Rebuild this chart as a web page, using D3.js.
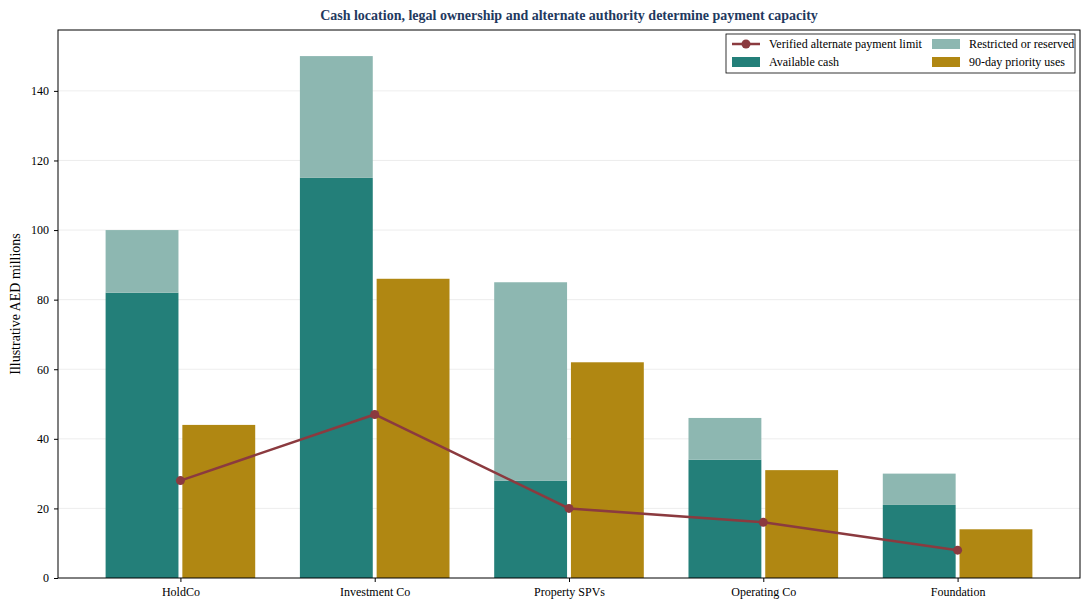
<!DOCTYPE html>
<html>
<head>
<meta charset="utf-8">
<script src="https://cdn.jsdelivr.net/npm/d3@7"></script>
<style>
  body { margin: 0; background: #fff; }
  text { font-family: "Liberation Serif", "Times New Roman", serif; }
</style>
</head>
<body>
<svg id="chart" width="1090" height="610"></svg>
<script>
'use strict';

const entities = ['HoldCo', 'Investment Co', 'Property SPVs', 'Operating Co', 'Foundation'];
const availableCash = [82, 115, 28, 34, 21];
const restrictedCash = [18, 35, 57, 12, 9];
const priorityUses = [44, 86, 62, 31, 14];
const alternateLimit = [28, 47, 20, 16, 8];
const yTicks = [0, 20, 40, 60, 80, 100, 120, 140];

const colours = {
    available: '#237f79',
    restricted: '#8db7b1',
    priority: '#b08712',
    line: '#8b3a3f'
};

const margin = {top: 30, right: 10, bottom: 32, left: 58};
const svg = d3.select('#chart');
const w = 1090 - margin.left - margin.right;
const h = 610 - margin.top - margin.bottom;

const x = d3.scaleLinear().domain([-0.63, 4.63]).range([0, w]);
const y = d3.scaleLinear().domain([0, 157.5]).range([h, 0]);

const g = svg.append('g').attr('transform', `translate(${margin.left},${margin.top})`);

// grid
g.selectAll('line.grid')
    .data(yTicks.slice(1))
    .enter()
    .append('line')
    .attr('x1', 0).attr('x2', w)
    .attr('y1', d => y(d)).attr('y2', d => y(d))
    .attr('stroke', '#e8e8e8').attr('stroke-width', 0.8);

const bw = 0.375;

// stacked cash bars
g.selectAll('rect.avail')
    .data(availableCash)
    .enter()
    .append('rect')
    .attr('x', (d, i) => x(i - 0.385))
    .attr('width', x(bw) - x(0))
    .attr('y', d => y(d))
    .attr('height', d => h - y(d))
    .attr('fill', colours.available);

g.selectAll('rect.restr')
    .data(restrictedCash)
    .enter()
    .append('rect')
    .attr('x', (d, i) => x(i - 0.385))
    .attr('width', x(bw) - x(0))
    .attr('y', (d, i) => y(d + availableCash[i]))
    .attr('height', (d, i) => y(availableCash[i]) - y(d + availableCash[i]))
    .attr('fill', colours.restricted);

g.selectAll('rect.prio')
    .data(priorityUses)
    .enter()
    .append('rect')
    .attr('x', (d, i) => x(i + 0.01))
    .attr('width', x(bw) - x(0))
    .attr('y', d => y(d))
    .attr('height', d => h - y(d))
    .attr('fill', colours.priority);

// alternate limit line
const line = d3.line().x((d, i) => x(i)).y(d => y(d));
g.append('path')
    .datum(alternateLimit)
    .attr('d', line)
    .attr('fill', 'none')
    .attr('stroke', colours.line)
    .attr('stroke-width', 2.5);

g.selectAll('circle.pt')
    .data(alternateLimit)
    .enter()
    .append('circle')
    .attr('cx', (d, i) => x(i))
    .attr('cy', d => y(d))
    .attr('r', 4.5)
    .attr('fill', colours.line);

// axes
const yAxis = g.append('g')
    .call(d3.axisLeft(y).tickValues(yTicks).tickSize(4).tickPadding(5));
const xAxis = g.append('g')
    .attr('transform', `translate(0,${h})`)
    .call(d3.axisBottom(x).tickValues(d3.range(entities.length)).tickFormat(i => entities[i]).tickSize(4).tickPadding(5));
[yAxis, xAxis].forEach((a) => {
    a.selectAll('text').attr('font-size', 12).attr('fill', '#000')
        .attr('font-family', '"Liberation Serif", serif');
    a.select('.domain').remove();
});

g.append('rect')
    .attr('width', w).attr('height', h)
    .attr('fill', 'none').attr('stroke', '#000').attr('stroke-width', 1);

// labels
svg.append('text')
    .attr('x', margin.left + w / 2).attr('y', 20)
    .attr('text-anchor', 'middle')
    .attr('font-size', 14).attr('font-weight', 'bold')
    .attr('fill', '#1f3a5f')
    .text('Cash location, legal ownership and alternate authority determine payment capacity');

svg.append('text')
    .attr('transform', `translate(20,${margin.top + h / 2}) rotate(-90)`)
    .attr('text-anchor', 'middle')
    .attr('font-size', 14)
    .text('Illustrative AED millions');

// legend
const legend = svg.append('g').attr('transform', 'translate(726,34)');
legend.append('rect')
    .attr('width', 349).attr('height', 39)
    .attr('fill', '#fff').attr('stroke', '#000').attr('stroke-width', 0.8);

const items = [
    {label: 'Verified alternate payment limit', type: 'line', col: 0, row: 0},
    {label: 'Available cash', type: 'box', colour: colours.available, col: 0, row: 1},
    {label: 'Restricted or reserved', type: 'box', colour: colours.restricted, col: 1, row: 0},
    {label: '90-day priority uses', type: 'box', colour: colours.priority, col: 1, row: 1}
];
items.forEach((it) => {
    const ig = legend.append('g').attr('transform', `translate(${it.col ? 206 : 6},${it.row ? 28 : 10})`);
    if (it.type === 'line') {
        ig.append('line').attr('x1', 0).attr('x2', 28).attr('y1', 0).attr('y2', 0)
            .attr('stroke', colours.line).attr('stroke-width', 2.5);
        ig.append('circle').attr('cx', 14).attr('cy', 0).attr('r', 4.5).attr('fill', colours.line);
    }
    else {
        ig.append('rect').attr('x', 0).attr('y', -5).attr('width', 28).attr('height', 10).attr('fill', it.colour);
    }
    ig.append('text').attr('x', 37).attr('y', 4).attr('font-size', 12).text(it.label);
});
</script>
</body>
</html>
